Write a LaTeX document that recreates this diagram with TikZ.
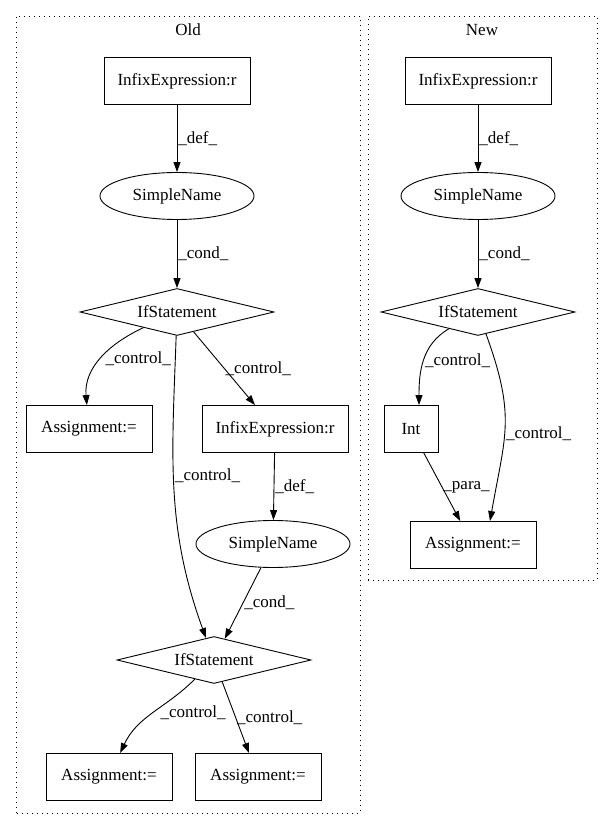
\documentclass[tikz,border=0pt]{standalone}
\usepackage{fontspec}
\setmainfont{Liberation Serif}
\usetikzlibrary{shapes.geometric,arrows.meta}

\begin{document}
\begin{tikzpicture}[x=1pt,y=1pt,font=\fontsize{17}{19}\selectfont,
  box node/.style={rectangle,draw,line width=0.9pt,minimum height=47pt,minimum width=54pt,inner xsep=6pt},
  oval node/.style={ellipse,draw,line width=0.9pt,minimum width=154pt,minimum height=47pt,inner sep=0pt},
  cond node/.style={diamond,draw,line width=0.9pt,aspect=4,minimum width=194pt,minimum height=47pt,inner sep=0pt},
  flow/.style={-{Triangle[length=10pt,width=7pt]},line width=0.9pt},
  lbl/.style={anchor=west,inner sep=1pt},
  cluster/.style={draw,line width=0.9pt,dash pattern=on 1pt off 4pt}]

  \useasboundingbox (0,0) rectangle (605,828);

  % clusters
  \draw[cluster] (16,15) rectangle (360,812);
  \node (old) at (188,798) {Old};
  \draw[cluster] (368,248) rectangle (597,812);
  \node (new) at (482,798) {New};

  % old
  \node[box node,minimum width=146pt] (o0) at (177,747) {InfixExpression:r};
  \node[oval node] (o1) at (177,632) {SimpleName};
  \node[cond node] (o2) at (177,516) {IfStatement};
  \node[box node,minimum width=126pt] (o3) at (89,399) {Assignment:=};
  \node[box node,minimum width=146pt] (o4) at (275,399) {InfixExpression:r};
  \node[oval node] (o5) at (273,284) {SimpleName};
  \node[cond node] (o6) at (214,168) {IfStatement};
  \node[box node,minimum width=126pt] (o7) at (109,51) {Assignment:=};
  \node[box node,minimum width=126pt] (o8) at (258,51) {Assignment:=};

  % new
  \node[box node,minimum width=146pt] (n0) at (478,747) {InfixExpression:r};
  \node[oval node] (n1) at (478,632) {SimpleName};
  \node[cond node] (n2) at (478,516) {IfStatement};
  \node[box node] (n3) at (411,399) {Int};
  \node[box node,minimum width=126pt] (n4) at (473,283) {Assignment:=};

  \path[] (o0) [flow] edge node [lbl] {\_def\_} (o1);
  \path[] (o1) [flow] edge node [lbl] {\_cond\_} (o2);
  \path[] (o2) [flow] edge [out=-155,in=95] node [lbl,xshift=3pt] {\_control\_} (o3);
  \path[] (o2) [flow] edge node [lbl] {\_control\_} (o4);
  \path[] (o2) [flow] edge [out=-92,in=110] node [lbl,pos=0.45] {\_control\_} (o6);
  \path[] (o4) [flow] edge node [lbl] {\_def\_} (o5);
  \path[] (o5) [flow] edge node [lbl] {\_cond\_} (o6);
  \path[] (o6) [flow] edge [out=-135,in=65] node [lbl,xshift=6pt] {\_control\_} (o7);
  \path[] (o6) [flow] edge node [lbl] {\_control\_} (o8);

  \path[] (n0) [flow] edge node [lbl] {\_def\_} (n1);
  \path[] (n1) [flow] edge node [lbl] {\_cond\_} (n2);
  \path[] (n2) [flow] edge [out=-150,in=90] node [lbl] {\_control\_} ([xshift=8pt]n3.north);
  \path[] (n2) [flow] edge [out=-70,in=80,looseness=1.2] node [lbl,pos=0.55] {\_control\_} ([xshift=17pt]n4.north);
  \path[] (n3) [flow] edge node [lbl] {\_para\_} (n4);
\end{tikzpicture}
\end{document}
